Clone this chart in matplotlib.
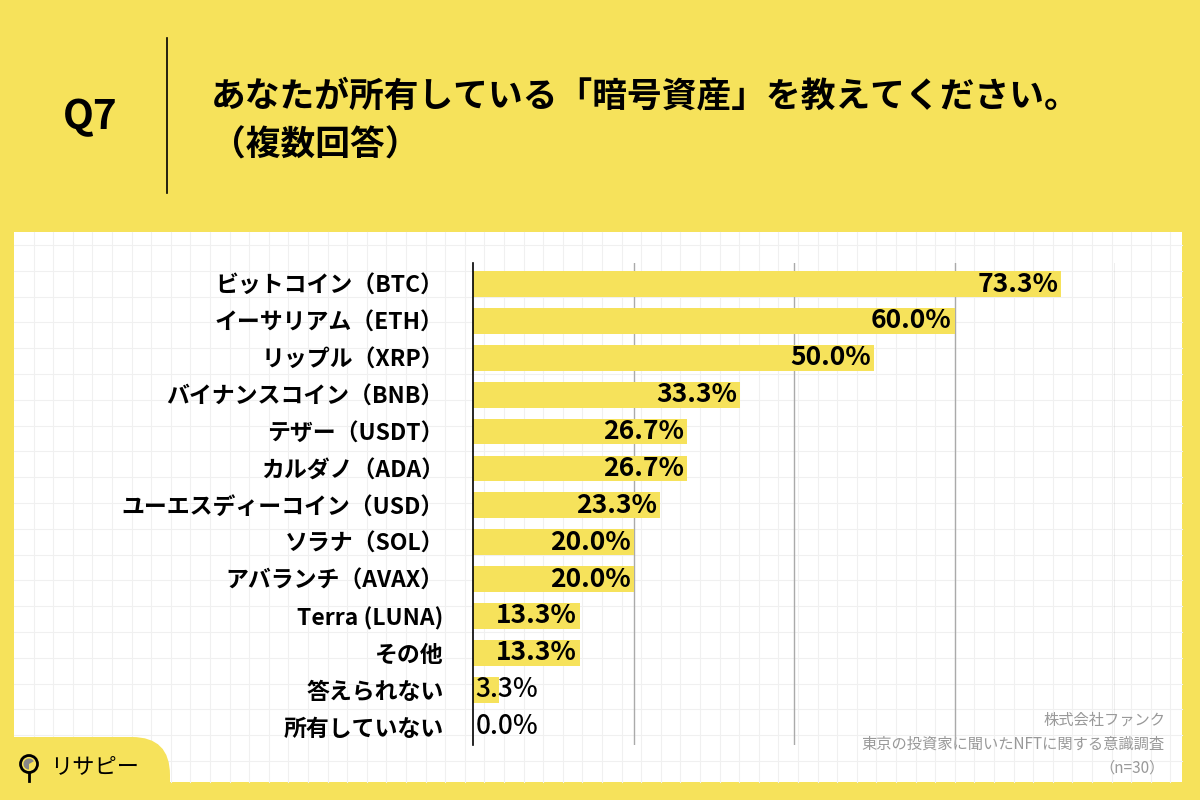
import matplotlib
matplotlib.use('Agg')
import matplotlib.pyplot as plt
from matplotlib.patches import Rectangle, FancyBboxPatch, Circle, Wedge

plt.rcParams['font.family'] = ['Noto Sans CJK JP', 'DejaVu Sans']

# data
categories = ['ビットコイン（BTC）', 'イーサリアム（ETH）', 'リップル（XRP）',
              'バイナンスコイン（BNB）', 'テザー（USDT）', 'カルダノ（ADA）',
              'ユーエスディーコイン（USD）', 'ソラナ（SOL）', 'アバランチ（AVAX）',
              'Terra (LUNA)', 'その他', '答えられない', '所有していない']
values = [73.3, 60.0, 50.0, 33.3, 26.7, 26.7, 23.3, 20.0, 20.0, 13.3, 13.3, 3.3, 0.0]
x_ticks = [20, 40, 60, 80]

title = 'あなたが所有している「暗号資産」を教えてください。'
subtitle = '（複数回答）'
notes = ['株式会社ファンク', '東京の投資家に聞いたNFTに関する意識調査', '（n=30）']

yellow = '#F6E25B'

fig = plt.figure(figsize=(12, 8), dpi=100)
fig.patch.set_facecolor(yellow)

# background layer in pixel coordinates
bg = fig.add_axes([0, 0, 1, 1])
bg.set_xlim(0, 1200)
bg.set_ylim(800, 0)
bg.axis('off')
bg.add_patch(Rectangle((14, 232), 1168, 550, facecolor='white', edgecolor='none'))
gx = 14 + 19.6
while gx < 1182:
    bg.plot([gx, gx], [232, 782], color='#F0F0F0', lw=0.8, zorder=1)
    gx += 19.6
gy = 245
while gy < 782:
    bg.plot([14, 1182], [gy, gy], color='#F0F0F0', lw=0.8, zorder=1)
    gy += 25.8

# header
bg.text(90, 118, 'Q7', fontsize=29, fontweight='bold', ha='center', va='center')
bg.plot([167, 167], [38, 193], color='black', lw=1.2)
bg.text(211, 96, title, fontsize=25, fontweight='bold', ha='left', va='center')
bg.text(211, 145, subtitle, fontsize=25, fontweight='bold', ha='left', va='center')

# logo corner
bg.add_patch(FancyBboxPatch((-40, 737), 210, 120, boxstyle='round,pad=0,rounding_size=38',
                            facecolor=yellow, edgecolor='none', zorder=3))
bg.add_patch(Circle((29, 764), 8.5, facecolor='none', edgecolor='black', lw=2, zorder=4))
bg.add_patch(Wedge((29, 764), 5.5, 90, 330, facecolor='#888888', edgecolor='none', zorder=4))
bg.plot([29, 29], [773, 781], color='black', lw=2, zorder=4)
bg.text(50, 767, 'リサピー', fontsize=16, ha='left', va='center', zorder=4)

# footnotes
for k, line in enumerate(notes):
    bg.text(1165, 720 + k * 24, line, fontsize=11, color='#999999', ha='right', va='center')

# chart
ax = fig.add_axes([473 / 1200, 1 - 745 / 800, (1115 - 473) / 1200, (745 - 263) / 800])
ax.patch.set_alpha(0)
ypos = list(range(len(categories)))
ax.barh(ypos, values, height=0.7, color=yellow, zorder=2)
ax.set_xlim(0, 80)
ax.set_ylim(len(categories) - 0.5, -0.57)
for xv in x_ticks:
    ax.axvline(xv, color='#AAAAAA', lw=1, zorder=1)
for spine in ['top', 'right', 'bottom']:
    ax.spines[spine].set_visible(False)
ax.spines['left'].set_color('black')
ax.spines['left'].set_linewidth(1.2)
ax.spines['left'].set_zorder(3)
ax.set_xticks([])
ax.set_yticks(ypos)
ax.set_yticklabels(categories, fontsize=16.5, fontweight='bold')
ax.tick_params(axis='y', length=0, pad=21)

for i, v in enumerate(values):
    label = f'{v:.1f}%'
    if v >= 10:
        ax.text(v - 0.35, i, label, ha='right', va='center', fontsize=19, fontweight='bold', zorder=4)
    else:
        ax.text(0.35, i, label, ha='left', va='center', fontsize=19, fontweight='medium', zorder=4)

fig.savefig('out.png', dpi=100, facecolor=fig.get_facecolor())
